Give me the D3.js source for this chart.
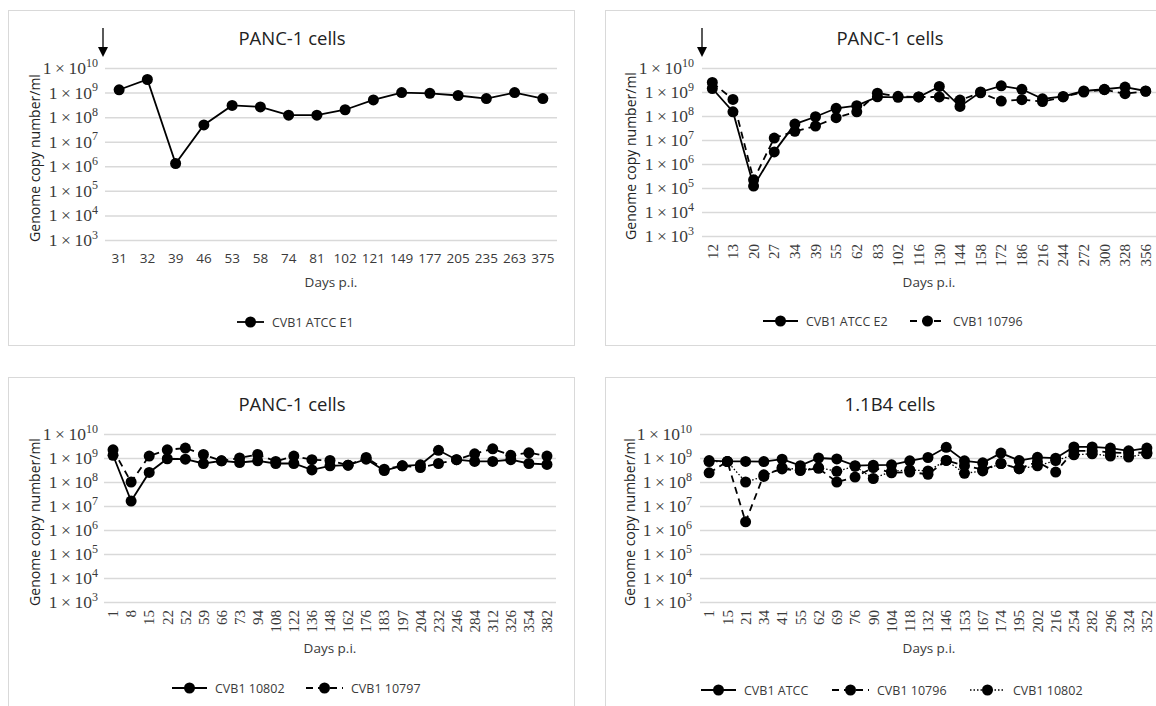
<!DOCTYPE html>
<html><head><meta charset="utf-8">
<script src="https://cdn.jsdelivr.net/npm/d3@7"></script>
<style>body{margin:0;background:#fff}svg{display:block}</style>
</head><body>
<svg id="c" width="1156" height="706"></svg>
<script>
// ---------- DATA ----------
const yTickExps = [3,4,5,6,7,8,9,10];

const p1Days = [31,32,39,46,53,58,74,81,102,121,149,177,205,235,263,375];
const p1AtccE1 = [1.3e9,3.4e9,1.3e6,4.8e7,3.0e8,2.6e8,1.2e8,1.2e8,2.0e8,5.0e8,1.0e9,9.3e8,7.6e8,5.7e8,1.0e9,5.7e8];

const p2Days = [12,13,20,27,34,39,55,62,83,102,116,130,144,158,172,186,216,244,272,300,328,356];
const p2AtccE2 = [1.4e9,1.5e8,1.2e5,3.2e6,4.6e7,9.3e7,2.1e8,2.7e8,6.3e8,6.0e8,6.2e8,1.7e9,2.5e8,1.0e9,1.8e9,1.3e9,5.2e8,6.5e8,1.1e9,1.3e9,1.6e9,1.1e9];
const p2V10796 = [2.5e9,4.9e8,2.2e5,1.2e7,2.3e7,3.8e7,8.5e7,1.5e8,8.9e8,6.6e8,6.2e8,6.2e8,4.6e8,9.3e8,4.2e8,4.8e8,4.0e8,6.2e8,1.0e9,1.25e9,8.5e8,1.07e9];

const p3Days = [1,8,15,22,52,59,66,73,94,108,122,136,148,162,176,183,197,204,232,246,284,312,326,354,382];
const p3V10802 = [1.3e9,1.6e7,2.5e8,9.3e8,8.9e8,5.9e8,7.6e8,6.5e8,7.6e8,5.9e8,5.9e8,3.2e8,4.7e8,5.0e8,8.9e8,3.0e8,4.7e8,5.2e8,2.1e9,8.5e8,7.2e8,7.2e8,8.5e8,5.9e8,5.4e8];
const p3V10797 = [2.2e9,1.0e8,1.2e9,2.2e9,2.6e9,1.4e9,7.6e8,1.0e9,1.4e9,7.2e8,1.2e9,8.5e8,7.9e8,5.0e8,1.05e9,3.4e8,4.7e8,4.0e8,5.9e8,8.5e8,1.5e9,2.4e9,1.3e9,1.65e9,1.2e9];

const p4Days = [1,15,21,34,41,55,62,69,76,90,104,118,132,146,153,167,174,195,202,216,254,282,296,324,352];
const p4Atcc = [7.8e8,7.2e8,7.2e8,7.1e8,8.9e8,4.8e8,1.0e9,9.1e8,4.8e8,5.0e8,5.2e8,7.6e8,1.05e9,2.8e9,7.6e8,6.3e8,1.6e9,7.8e8,1.07e9,9.8e8,2.9e9,2.9e9,2.6e9,2.0e9,2.6e9];
const p4V10796 = [2.4e8,7.1e8,2.2e6,2.0e8,3.5e8,3.0e8,3.7e8,1.0e8,1.6e8,4.0e8,2.4e8,2.6e8,2.1e8,7.9e8,4.8e8,3.3e8,5.9e8,3.6e8,6.9e8,2.6e8,2.0e9,2.0e9,1.7e9,1.6e9,1.7e9];
const p4V10802 = [7.1e8,7.1e8,1.0e8,1.7e8,4.0e8,3.2e8,4.0e8,2.8e8,4.5e8,1.4e8,2.8e8,3.2e8,2.9e8,7.9e8,2.3e8,2.9e8,5.9e8,3.6e8,4.7e8,7.8e8,1.35e9,1.5e9,1.2e9,1.1e9,1.5e9];

// ---------- LAYOUT ----------
const svg = d3.select('#c');
const TXT = '#3a3a3a';
const SANS = '"Open Sans","Noto Sans",sans-serif';
const SERIF = '"Liberation Serif","DejaVu Serif",serif';
const styles = {
  solid:  {dash: null,  w: 1.8},
  dashed: {dash: '7,5', w: 1.8},
  dotted: {dash: '1.5,2', w: 1.3}
};

const panels = [
  {box:[8,10,566,335], x:[105,557], y:[240,68], title:'PANC-1 cells', tx:292, ty:37,
   days:p1Days, rotate:false, labelY:258, dx:331, dy:282, legY:322, arrow:103, ylabX:34, tickR:98,
   series:[{name:'CVB1 ATCC E1', vals:p1AtccE1, st:'solid'}],
   leg:[[237,272]]},
  {box:[605,10,560,335], x:[702,1156], y:[236,68], title:'PANC-1 cells', tx:890, ty:37,
   days:p2Days, rotate:true, labelY:244, dx:929, dy:282, legY:321, arrow:702, ylabX:630, tickR:694,
   series:[{name:'CVB1 ATCC E2', vals:p2AtccE2, st:'solid'},{name:'CVB1 10796', vals:p2V10796, st:'dashed'}],
   leg:[[763,806],[910,953]]},
  {box:[8,377,566,340], x:[104,556], y:[602,434], title:'PANC-1 cells', tx:292, ty:403,
   days:p3Days, rotate:true, labelY:610, dx:330, dy:648, legY:688, arrow:null, ylabX:34, tickR:98,
   series:[{name:'CVB1 10802', vals:p3V10802, st:'solid'},{name:'CVB1 10797', vals:p3V10797, st:'dashed'}],
   leg:[[172,215],[306,351]]},
  {box:[605,377,560,340], x:[700,1156], y:[602,434], title:'1.1B4 cells', tx:890, ty:403,
   days:p4Days, rotate:true, labelY:610, dx:929, dy:648, legY:690, arrow:null, ylabX:629, tickR:692,
   series:[{name:'CVB1 ATCC', vals:p4Atcc, st:'solid'},{name:'CVB1 10796', vals:p4V10796, st:'dashed'},{name:'CVB1 10802', vals:p4V10802, st:'dotted'}],
   leg:[[701,744],[832,877],[970,1013]]}
];

panels.forEach(p => {
  const g = svg.append('g');
  g.append('rect').attr('x',p.box[0]+0.5).attr('y',p.box[1]+0.5).attr('width',p.box[2]).attr('height',p.box[3])
    .attr('fill','#fff').attr('stroke','#d9d9d9').attr('stroke-width',1);

  const x = d3.scaleBand().domain(p.days.map(String)).range(p.x).padding(0);
  const y = d3.scaleLog().domain([1e3,1e10]).range(p.y);
  const tv = yTickExps.map(e => Math.pow(10,e));

  // gridlines
  const grid = g.append('g').attr('transform',`translate(${p.x[0]},0)`)
    .call(d3.axisLeft(y).tickValues(tv).tickSize(-(p.x[1]-p.x[0])).tickFormat(''));
  grid.select('.domain').remove();
  grid.selectAll('.tick line').attr('stroke','#d9d9d9').attr('stroke-width',1.5);

  // y tick labels
  const yl = g.append('g');
  tv.forEach((v,i) => {
    const t = yl.append('text').attr('x',p.tickR).attr('y',y(v)+6).attr('text-anchor','end')
      .attr('font-family',SERIF).attr('font-size',17.5).attr('fill',TXT);
    t.append('tspan').text('1\u2009×\u200910');
    t.append('tspan').attr('dy',-7.5).attr('font-size',12).text(yTickExps[i]);
  });

  // x axis labels
  const xa = g.append('g').attr('transform',`translate(0,${p.labelY})`)
    .call(d3.axisBottom(x).tickSize(0).tickPadding(0));
  xa.select('.domain').remove();
  if (p.rotate) {
    xa.selectAll('text').attr('font-family',SERIF).attr('font-size',15).attr('fill',TXT)
      .attr('transform','rotate(-90)').attr('text-anchor','end').attr('dy','0.35em').attr('x',0).attr('y',0);
  } else {
    xa.selectAll('text').attr('font-family',SANS).attr('font-size',13.5).attr('fill',TXT).attr('dy','0.35em');
  }

  // titles
  g.append('text').attr('x',p.tx).attr('y',p.ty).attr('text-anchor','middle').attr('dominant-baseline','central')
    .attr('font-family',SANS).attr('font-size',18.5).attr('fill','#222').text(p.title);
  g.append('text').attr('x',p.dx).attr('y',p.dy).attr('text-anchor','middle').attr('dominant-baseline','central')
    .attr('font-family',SANS).attr('font-size',13.5).attr('fill',TXT).text('Days p.i.');
  g.append('text').attr('transform',`translate(${p.ylabX},${(p.y[0]+p.y[1])/2 + 4}) rotate(-90)`)
    .attr('text-anchor','middle').attr('dominant-baseline','central')
    .attr('font-family',SANS).attr('font-size',14).attr('fill','#222').text('Genome copy number/ml');

  if (p.arrow !== null) {
    g.append('line').attr('x1',p.arrow).attr('x2',p.arrow).attr('y1',28).attr('y2',48)
      .attr('stroke','#000').attr('stroke-width',1.3);
    g.append('path').attr('d',`M${p.arrow-5},47 L${p.arrow+5},47 L${p.arrow},57 Z`).attr('fill','#000');
  }

  // series
  const cx = d => x(String(d)) + x.bandwidth()/2;
  p.series.forEach((s, si) => {
    const st = styles[s.st];
    const pts = p.days.map((d,i) => [cx(d), y(s.vals[i])]);
    g.append('path').attr('d', d3.line()(pts)).attr('fill','none').attr('stroke','#000')
      .attr('stroke-width',st.w).attr('stroke-dasharray',st.dash);
    g.append('g').selectAll('circle').data(pts).join('circle')
      .attr('cx',d=>d[0]).attr('cy',d=>d[1]).attr('r',5.5).attr('fill','#000');

    // legend
    const lx = p.leg[si][0], tx = p.leg[si][1];
    g.append('line').attr('x1',lx).attr('x2',tx-8).attr('y1',p.legY).attr('y2',p.legY)
      .attr('stroke','#000').attr('stroke-width',st.w).attr('stroke-dasharray',st.dash);
    g.append('circle').attr('cx',(lx+tx-8)/2).attr('cy',p.legY).attr('r',5.5).attr('fill','#000');
    g.append('text').attr('x',tx).attr('y',p.legY).attr('dominant-baseline','central')
      .attr('font-family',SANS).attr('font-size',12.5).attr('fill',TXT).text(s.name);
  });
});
</script>
</body></html>
